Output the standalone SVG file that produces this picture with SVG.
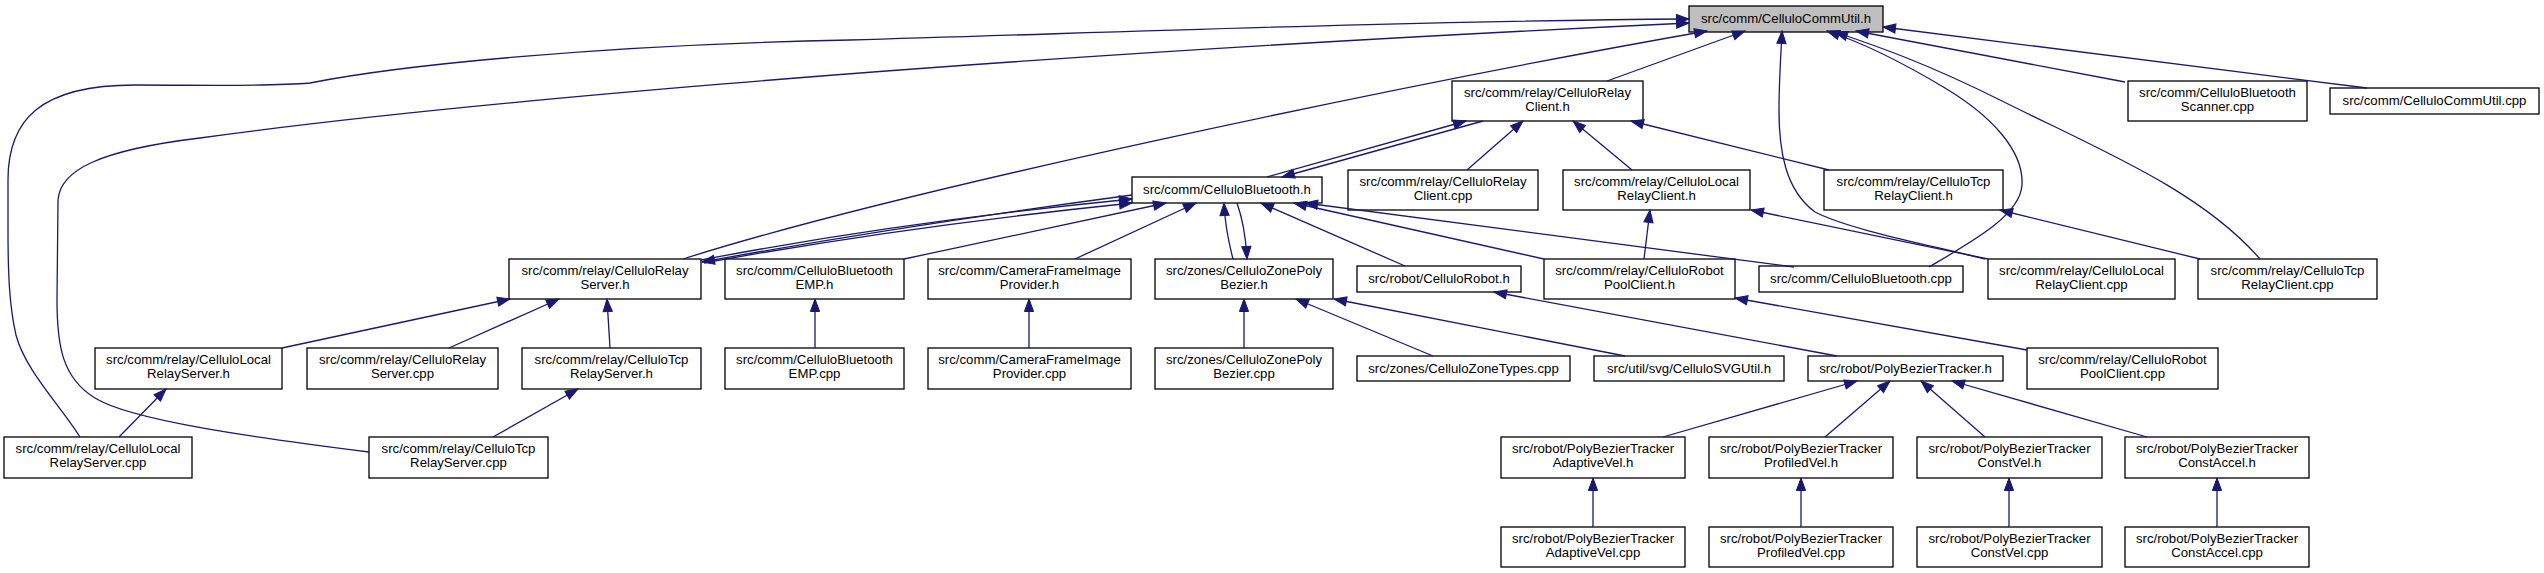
<svg xmlns="http://www.w3.org/2000/svg" width="2544" height="573" viewBox="0 0 2544 573">
<style>
.node rect{fill:#ffffff;stroke:#000000;stroke-width:1.3}
.node.root rect{fill:#bfbfbf}
.node text{font-family:"Liberation Sans",Arial,Helvetica,sans-serif;font-size:13.2px;fill:#000000;text-anchor:middle}
.edges path{fill:none;stroke:#191970;stroke-width:1.3;marker-end:url(#ah)}
</style>
<defs>
<marker id="ah" markerUnits="userSpaceOnUse" markerWidth="14" markerHeight="12" viewBox="0 -6 14 12" refX="12.5" refY="0" orient="auto" overflow="visible">
<path d="M0,-4.6 L12.5,0 L0,4.6 Z" fill="#191970" stroke="#191970" stroke-width="1"/>
</marker>
</defs>
<rect x="0" y="0" width="2544" height="573" fill="#ffffff"/>

<g id="nodes">
<g id="n_commutil_h" class="node root"><rect x="1689" y="6" width="194" height="26"/><text x="1786" y="23">src/comm/CelluloCommUtil.h</text></g>

<g id="n_relayclient_h" class="node"><rect x="1452" y="81" width="191" height="40"/><text x="1547.5" y="97">src/comm/relay/CelluloRelay</text><text x="1547.5" y="111">Client.h</text></g>
<g id="n_btscanner_cpp" class="node"><rect x="2128" y="81" width="179" height="40"/><text x="2217.5" y="97">src/comm/CelluloBluetooth</text><text x="2217.5" y="111">Scanner.cpp</text></g>
<g id="n_commutil_cpp" class="node"><rect x="2330" y="88" width="209" height="26"/><text x="2434.5" y="105">src/comm/CelluloCommUtil.cpp</text></g>

<g id="n_bluetooth_h" class="node"><rect x="1132" y="177" width="190" height="26"/><text x="1227" y="194">src/comm/CelluloBluetooth.h</text></g>
<g id="n_relayclient_cpp" class="node"><rect x="1348" y="170" width="190" height="40"/><text x="1443" y="186">src/comm/relay/CelluloRelay</text><text x="1443" y="200">Client.cpp</text></g>
<g id="n_localrelayclient_h" class="node"><rect x="1563" y="170" width="187" height="40"/><text x="1656.5" y="186">src/comm/relay/CelluloLocal</text><text x="1656.5" y="200">RelayClient.h</text></g>
<g id="n_tcprelayclient_h" class="node"><rect x="1824" y="170" width="179" height="40"/><text x="1913.5" y="186">src/comm/relay/CelluloTcp</text><text x="1913.5" y="200">RelayClient.h</text></g>

<g id="n_relayserver_h" class="node"><rect x="509" y="259" width="192" height="40"/><text x="605" y="275">src/comm/relay/CelluloRelay</text><text x="605" y="289">Server.h</text></g>
<g id="n_btemp_h" class="node"><rect x="725" y="259" width="179" height="40"/><text x="814.5" y="275">src/comm/CelluloBluetooth</text><text x="814.5" y="289">EMP.h</text></g>
<g id="n_camera_h" class="node"><rect x="928" y="259" width="203" height="40"/><text x="1029.5" y="275">src/comm/CameraFrameImage</text><text x="1029.5" y="289">Provider.h</text></g>
<g id="n_zonepoly_h" class="node"><rect x="1155" y="259" width="178" height="40"/><text x="1244" y="275">src/zones/CelluloZonePoly</text><text x="1244" y="289">Bezier.h</text></g>
<g id="n_robot_h" class="node"><rect x="1357" y="266" width="164" height="26"/><text x="1439" y="283">src/robot/CelluloRobot.h</text></g>
<g id="n_robotpool_h" class="node"><rect x="1544" y="259" width="191" height="40"/><text x="1639.5" y="275">src/comm/relay/CelluloRobot</text><text x="1639.5" y="289">PoolClient.h</text></g>
<g id="n_bluetooth_cpp" class="node"><rect x="1759" y="266" width="204" height="26"/><text x="1861" y="283">src/comm/CelluloBluetooth.cpp</text></g>
<g id="n_localrelayclient_cpp" class="node"><rect x="1988" y="259" width="187" height="40"/><text x="2081.5" y="275">src/comm/relay/CelluloLocal</text><text x="2081.5" y="289">RelayClient.cpp</text></g>
<g id="n_tcprelayclient_cpp" class="node"><rect x="2198" y="259" width="179" height="40"/><text x="2287.5" y="275">src/comm/relay/CelluloTcp</text><text x="2287.5" y="289">RelayClient.cpp</text></g>

<g id="n_localrelayserver_h" class="node"><rect x="95" y="348" width="187" height="41"/><text x="188.5" y="364">src/comm/relay/CelluloLocal</text><text x="188.5" y="378">RelayServer.h</text></g>
<g id="n_relayserver_cpp" class="node"><rect x="307" y="348" width="191" height="41"/><text x="402.5" y="364">src/comm/relay/CelluloRelay</text><text x="402.5" y="378">Server.cpp</text></g>
<g id="n_tcprelayserver_h" class="node"><rect x="522" y="348" width="179" height="41"/><text x="611.5" y="364">src/comm/relay/CelluloTcp</text><text x="611.5" y="378">RelayServer.h</text></g>
<g id="n_btemp_cpp" class="node"><rect x="725" y="348" width="179" height="41"/><text x="814.5" y="364">src/comm/CelluloBluetooth</text><text x="814.5" y="378">EMP.cpp</text></g>
<g id="n_camera_cpp" class="node"><rect x="928" y="348" width="203" height="41"/><text x="1029.5" y="364">src/comm/CameraFrameImage</text><text x="1029.5" y="378">Provider.cpp</text></g>
<g id="n_zonepoly_cpp" class="node"><rect x="1155" y="348" width="178" height="41"/><text x="1244" y="364">src/zones/CelluloZonePoly</text><text x="1244" y="378">Bezier.cpp</text></g>
<g id="n_zonetypes_cpp" class="node"><rect x="1357" y="356" width="213" height="25"/><text x="1463.5" y="373">src/zones/CelluloZoneTypes.cpp</text></g>
<g id="n_svgutil_h" class="node"><rect x="1594" y="356" width="190" height="25"/><text x="1689" y="373">src/util/svg/CelluloSVGUtil.h</text></g>
<g id="n_tracker_h" class="node"><rect x="1808" y="356" width="195" height="25"/><text x="1905.5" y="373">src/robot/PolyBezierTracker.h</text></g>
<g id="n_robotpool_cpp" class="node"><rect x="2027" y="348" width="191" height="41"/><text x="2122.5" y="364">src/comm/relay/CelluloRobot</text><text x="2122.5" y="378">PoolClient.cpp</text></g>

<g id="n_localrelayserver_cpp" class="node"><rect x="4" y="437" width="188" height="41"/><text x="98" y="453">src/comm/relay/CelluloLocal</text><text x="98" y="467">RelayServer.cpp</text></g>
<g id="n_tcprelayserver_cpp" class="node"><rect x="369" y="437" width="179" height="41"/><text x="458.5" y="453">src/comm/relay/CelluloTcp</text><text x="458.5" y="467">RelayServer.cpp</text></g>
<g id="n_adaptive_h" class="node"><rect x="1501" y="437" width="184" height="41"/><text x="1593" y="453">src/robot/PolyBezierTracker</text><text x="1593" y="467">AdaptiveVel.h</text></g>
<g id="n_profiled_h" class="node"><rect x="1709" y="437" width="184" height="41"/><text x="1801" y="453">src/robot/PolyBezierTracker</text><text x="1801" y="467">ProfiledVel.h</text></g>
<g id="n_constvel_h" class="node"><rect x="1917" y="437" width="185" height="41"/><text x="2009.5" y="453">src/robot/PolyBezierTracker</text><text x="2009.5" y="467">ConstVel.h</text></g>
<g id="n_constaccel_h" class="node"><rect x="2125" y="437" width="184" height="41"/><text x="2217" y="453">src/robot/PolyBezierTracker</text><text x="2217" y="467">ConstAccel.h</text></g>

<g id="n_adaptive_cpp" class="node"><rect x="1501" y="527" width="184" height="40"/><text x="1593" y="543">src/robot/PolyBezierTracker</text><text x="1593" y="557">AdaptiveVel.cpp</text></g>
<g id="n_profiled_cpp" class="node"><rect x="1709" y="527" width="184" height="40"/><text x="1801" y="543">src/robot/PolyBezierTracker</text><text x="1801" y="557">ProfiledVel.cpp</text></g>
<g id="n_constvel_cpp" class="node"><rect x="1917" y="527" width="185" height="40"/><text x="2009.5" y="543">src/robot/PolyBezierTracker</text><text x="2009.5" y="557">ConstVel.cpp</text></g>
<g id="n_constaccel_cpp" class="node"><rect x="2125" y="527" width="184" height="40"/><text x="2217" y="543">src/robot/PolyBezierTracker</text><text x="2217" y="557">ConstAccel.cpp</text></g>
</g>

<g id="connectors" class="edges">
<path d="M80,437 C60,405 25,370 16,335 C9,305 8,270 8,230 L8,180 C8,120 40,85 135,85 C200,85 260,87 310,83 C400,65 600,45 850,40 C1100,33 1400,21 1689,19"/>
<path d="M369,452 C250,437 130,420 95,398 C62,378 57,345 57,300 L58,200 C60,170 100,150 200,138 C400,110 900,60 1689,23"/>
<path d="M683,259 C900,190 1400,85 1707,31"/>
<path d="M1607,81 L1745,31"/>
<path d="M1985,259 C1930,245 1850,230 1815,212 C1785,190 1779,150 1779,110 C1779,80 1781,55 1782,31"/>
<path d="M1929,267 C1975,240 2020,215 2022,185 C2024,150 1990,115 1945,88 C1910,67 1870,45 1827,31"/>
<path d="M2260,259 C2200,190 2100,150 2000,100 C1930,65 1880,47 1835,32"/>
<path d="M2125,82 L1856,31"/>
<path d="M2367,88 L1883,27"/>

<path d="M1267,177 L1466,121"/>
<path d="M1483,121 L1282,177"/>
<path d="M1467,170 L1523,121"/>
<path d="M1632,170 L1573,121"/>
<path d="M1829,170 L1631,121"/>

<path d="M1132,195 Q900,226 702,262"/>
<path d="M701,260 Q900,222 1132,199"/>
<path d="M704,263 Q900,227 1132,203"/>
<path d="M904,259 L1166,203"/>
<path d="M1075,259 L1196,203"/>
<path d="M1233,259 C1228,240 1225,225 1224,203"/>
<path d="M1237,203 C1243,220 1246,240 1247,259"/>
<path d="M1405,266 L1261,203"/>
<path d="M1544,259 L1294,203"/>
<path d="M1794,267 L1305,203"/>

<path d="M1644,259 L1650,210"/>
<path d="M1988,259 L1751,210"/>
<path d="M2200,259 L2000,210"/>

<path d="M282,348 L510,299"/>
<path d="M449,348 L559,299"/>
<path d="M610,348 L607,299"/>
<path d="M815,348 L815,299"/>
<path d="M1029,348 L1029,299"/>
<path d="M1244,348 L1244,299"/>
<path d="M1433,356 L1296,299"/>
<path d="M1625,356 L1334,299"/>
<path d="M1837,356 L1494,292"/>
<path d="M2027,350 L1735,298"/>

<path d="M119,437 L166,389"/>
<path d="M493,437 L578,389"/>

<path d="M1663,437 L1857,381"/>
<path d="M1825,437 L1890,381"/>
<path d="M1985,437 L1921,381"/>
<path d="M2147,437 L1952,381"/>

<path d="M1593,527 L1593,478"/>
<path d="M1801,527 L1801,478"/>
<path d="M2009,527 L2009,478"/>
<path d="M2217,527 L2217,478"/>
</g>
</svg>
